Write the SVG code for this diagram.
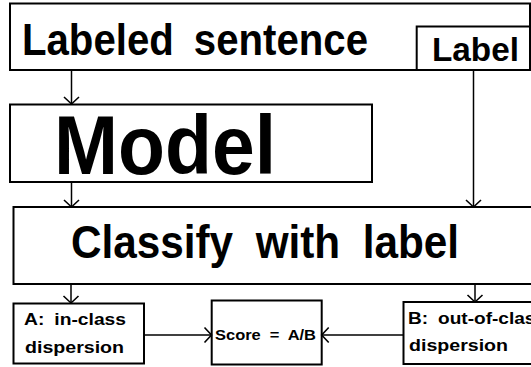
<svg xmlns="http://www.w3.org/2000/svg" width="531" height="367" viewBox="0 0 531 367">
<defs>
<style>
.box{fill:#fff;stroke:#000;stroke-width:2}
.t{font-family:"Liberation Sans",Arial,sans-serif;font-weight:bold;fill:#000}
.c{fill:none;stroke:#000;stroke-width:1.5}
</style>
<marker id="ah" viewBox="0 0 10 18" refX="8.5" refY="9" markerWidth="10" markerHeight="18" markerUnits="userSpaceOnUse" orient="auto">
<path d="M1.5,1.5 L8.5,9 L1.5,16.5" fill="none" stroke="#000" stroke-width="1.6"/>
</marker>
</defs>
<rect width="531" height="367" fill="#fff"/>
<g id="labeled-sentence">
<rect class="box" x="10" y="3.5" width="520" height="66.5"/>
<text class="t" x="22" y="55" font-size="45" word-spacing="10" textLength="346" lengthAdjust="spacingAndGlyphs">Labeled sentence</text>
</g>
<g id="label">
<rect class="box" x="416.7" y="26.5" width="113.3" height="43.5"/>
<text class="t" x="432" y="60.5" font-size="34" textLength="87" lengthAdjust="spacingAndGlyphs">Label</text>
</g>
<g id="model">
<rect class="box" x="10" y="104.5" width="362" height="77.5"/>
<text class="t" x="54" y="174" font-size="84" textLength="222" lengthAdjust="spacingAndGlyphs">Model</text>
</g>
<g id="classify">
<rect class="box" x="13.5" y="207" width="530" height="77"/>
<text class="t" x="71" y="257.6" font-size="47" word-spacing="12" textLength="388" lengthAdjust="spacingAndGlyphs">Classify with label</text>
</g>
<g id="in-class">
<rect class="box" x="13.5" y="303.5" width="130.5" height="60"/>
<text class="t" x="24" y="325" font-size="16.5" word-spacing="4" textLength="102" lengthAdjust="spacingAndGlyphs">A: in-class</text>
<text class="t" x="25" y="352.5" font-size="16.5" textLength="99" lengthAdjust="spacingAndGlyphs">dispersion</text>
</g>
<g id="score">
<rect class="box" x="211.7" y="300.5" width="110" height="64"/>
<text class="t" x="215" y="340" font-size="15" word-spacing="4" textLength="101" lengthAdjust="spacingAndGlyphs">Score = A/B</text>
</g>
<g id="out-of-class">
<rect class="box" x="403.5" y="302" width="140" height="62"/>
<text class="t" x="408" y="324.3" font-size="16.5" word-spacing="4" textLength="138" lengthAdjust="spacingAndGlyphs">B: out-of-class</text>
<text class="t" x="409" y="351" font-size="16.5" textLength="99" lengthAdjust="spacingAndGlyphs">dispersion</text>
</g>
<g id="connectors">
<line class="c" x1="71.5" y1="70" x2="71.5" y2="104" marker-end="url(#ah)"/>
<line class="c" x1="71.5" y1="182" x2="71.5" y2="207" marker-end="url(#ah)"/>
<line class="c" x1="473.5" y1="70" x2="473.5" y2="207" marker-end="url(#ah)"/>
<line class="c" x1="71" y1="284" x2="71" y2="303" marker-end="url(#ah)"/>
<line class="c" x1="475" y1="284" x2="475" y2="302" marker-end="url(#ah)"/>
<line class="c" x1="144" y1="335" x2="211.5" y2="335" marker-end="url(#ah)"/>
<line class="c" x1="403.5" y1="335" x2="321.7" y2="335" marker-end="url(#ah)"/>
</g>
</svg>
